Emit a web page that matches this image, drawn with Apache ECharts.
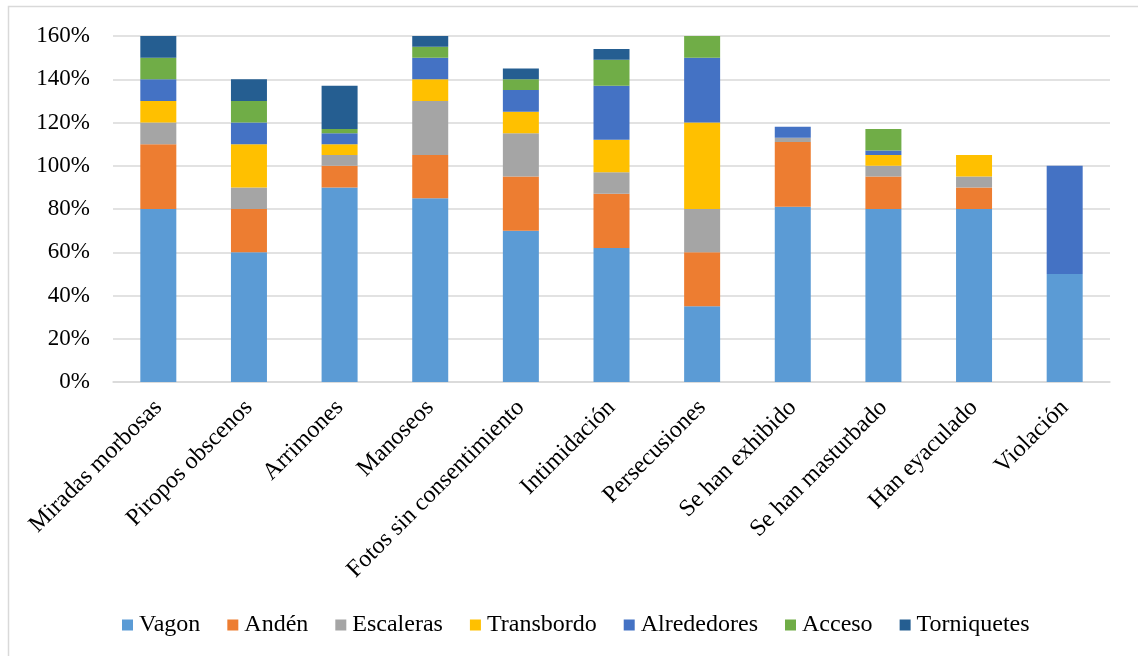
<!DOCTYPE html>
<html>
<head>
<meta charset="utf-8">
<script src="https://cdn.jsdelivr.net/npm/echarts@6/dist/echarts.min.js"></script>
<style>
html,body{margin:0;padding:0;background:#fff;}
#chart{width:1138px;height:656px;}
</style>
</head>
<body>
<div id="chart"></div>
<script>
const categories = ["Miradas morbosas","Piropos obscenos","Arrimones","Manoseos","Fotos sin consentimiento","Intimidación","Persecusiones","Se han exhibido","Se han masturbado","Han eyaculado","Violación"];
const seriesNames = ["Vagon","Andén","Escaleras","Transbordo","Alrededores","Acceso","Torniquetes"];
const vagon       = [80, 60, 90, 85, 70, 62, 35, 81, 80, 80, 50];
const anden       = [30, 20, 10, 20, 25, 25, 25, 30, 15, 10, 0];
const escaleras   = [10, 10, 5, 25, 20, 10, 20, 2, 5, 5, 0];
const transbordo  = [10, 20, 5, 10, 10, 15, 40, 0, 5, 10, 0];
const alrededores = [10, 10, 5, 10, 10, 25, 30, 5, 2, 0, 50];
const acceso      = [10, 10, 2, 5, 5, 12, 10, 0, 10, 0, 0];
const torniquetes = [10, 10, 20, 5, 5, 5, 0, 0, 0, 0, 0];
const yTicks = [0, 20, 40, 60, 80, 100, 120, 140, 160];

const values = [vagon, anden, escaleras, transbordo, alrededores, acceso, torniquetes];
const colors = ["#5B9BD5","#ED7D31","#A5A5A5","#FFC000","#4472C4","#70AD47","#255E91"];
const font = "'Liberation Serif', 'Times New Roman', serif";

const chart = echarts.init(document.getElementById('chart'), null, {renderer:'canvas'});
chart.setOption({
  animation: false,
  color: colors,
  graphic: [{
    type: 'rect', silent: true, z: -1,
    shape: {x: 8.5, y: 6.5, width: 1200, height: 700},
    style: {fill: 'none', stroke: '#D9D9D9', lineWidth: 1.5}
  }],
  grid: {left: 113, right: 28, top: 36, bottom: 274, containLabel: false},
  legend: {
    top: 608, left: 117,
    itemWidth: 11, itemHeight: 11, itemGap: 27,
    icon: 'rect',
    textStyle: {fontFamily: font, fontSize: 24, color: '#000', padding: [0,0,0,1]},
    data: seriesNames
  },
  xAxis: {
    type: 'category', data: categories,
    axisTick: {show: false},
    axisLine: {lineStyle: {color: '#D9D9D9', width: 1.5}},
    axisLabel: {rotate: 45, interval: 0, margin: 22, fontFamily: font, fontSize: 24, color: '#000'}
  },
  yAxis: {
    type: 'value', min: yTicks[0], max: yTicks[yTicks.length-1], interval: 20,
    axisLine: {show: false}, axisTick: {show: false},
    splitLine: {lineStyle: {color: '#D9D9D9', width: 1.5}},
    axisLabel: {formatter: '{value}%', margin: 23, fontFamily: font, fontSize: 23, color: '#000'}
  },
  series: seriesNames.map((n, i) => ({
    name: n, type: 'bar', stack: 'total', barWidth: 36,
    data: values[i],
    itemStyle: {color: colors[i]}
  }))
});
</script>
</body>
</html>
